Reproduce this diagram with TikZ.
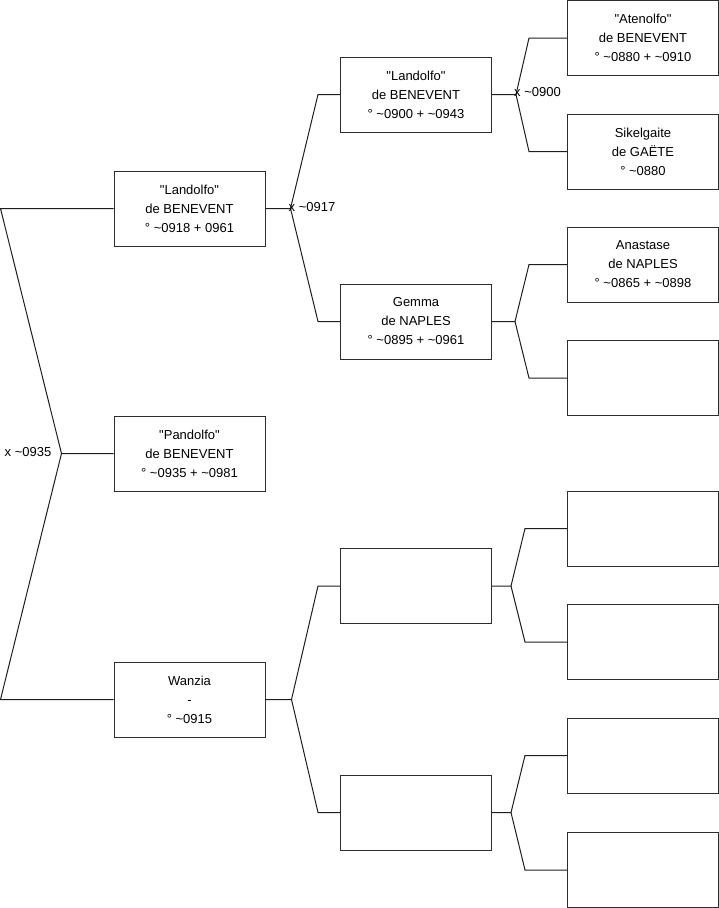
\documentclass[tikz,border=0pt]{standalone}
\usepackage{fontspec}
\setmainfont{Liberation Sans}[Ligatures=TeXOff]
\usepackage{xcolor}
\usepackage{tikz}
\usetikzlibrary{positioning, calc}
\definecolor{ftline}{RGB}{30,30,30}
\definecolor{ftbox}{RGB}{45,45,45}
\newcommand{\tl}{\textasciitilde}
\newcommand{\qt}[1]{\symbol{34}#1\symbol{34}}
\tikzset{
  person/.style   = {rectangle, draw=ftbox, line width=1pt, fill=white,
                     align=center, minimum width=151, minimum height=75,
                     inner sep=0pt, font=\fontsize{13}{19}\selectfont},
  link/.style     = {draw=ftline, line width=1pt, line join=miter},
  marriage/.style = {font=\fontsize{13}{16}\selectfont, inner sep=0pt},
}

\begin{document}
\begin{tikzpicture}[x=1pt, y=-1pt]
  \useasboundingbox (0,0) rectangle (719,908);
  % generation 1
  \node[person] (landolfoA) at (189.5,208.5) {\qt{Landolfo}\\de BENEVENT\\° \tl0918 + 0961};
  \node[person] (pandolfo)  at (189.5,453.5) {\qt{Pandolfo}\\de BENEVENT\\° \tl0935 + \tl0981};
  \node[person] (wanzia)    at (189.5,699.5) {Wanzia\\-\\° \tl0915};
  % generation 2
  \node[person] (landolfoB) at (416,94.5)  {\qt{Landolfo}\\de BENEVENT\\° \tl0900 + \tl0943};
  \node[person] (gemma)     at (416,321.5) {Gemma\\de NAPLES\\° \tl0895 + \tl0961};
  \node[person] (emptyA)    at (416,586)   {};
  \node[person] (emptyB)    at (416,812.5) {};
  % generation 3
  \node[person] (atenolfo)   at (643,38)    {\qt{Atenolfo}\\de BENEVENT\\° \tl0880 + \tl0910};
  \node[person] (sikelgaite) at (643,151.5) {Sikelgaite\\de GAËTE\\° \tl0880};
  \node[person] (anastase)   at (643,264.5) {Anastase\\de NAPLES\\° \tl0865 + \tl0898};
  \node[person] (emptyC)     at (643,378)   {};
  \node[person] (emptyD)     at (643,528.5) {};
  \node[person] (emptyE)     at (643,642)   {};
  \node[person] (emptyF)     at (643,755.5) {};
  \node[person] (emptyG)     at (643,870)   {};

  % forks
  \coordinate (k0) at ([xshift=-52]pandolfo.west);
  \coordinate (k1) at ([xshift=25]landolfoA.east);
  \coordinate (k2) at ([xshift=24]landolfoB.east);
  \coordinate (k3) at ([xshift=23]gemma.east);
  \coordinate (k4) at ([xshift=26]wanzia.east);
  \coordinate (k5) at ([xshift=19]emptyA.east);
  \coordinate (k6) at ([xshift=19]emptyB.east);

  \draw[link] (pandolfo.west) -- (k0) -- ([xshift=-113]landolfoA.west) -- (landolfoA.west);
  \draw[link] (k0) -- ([xshift=-113]wanzia.west) -- (wanzia.west);
  \draw[link] (landolfoA.east) -- (k1) -- ([xshift=-22]landolfoB.west) -- (landolfoB.west);
  \draw[link] (k1) -- ([xshift=-22]gemma.west) -- (gemma.west);
  \draw[link] (landolfoB.east) -- (k2) -- ([xshift=-38]atenolfo.west) -- (atenolfo.west);
  \draw[link] (k2) -- ([xshift=-38]sikelgaite.west) -- (sikelgaite.west);
  \draw[link] (gemma.east) -- (k3) -- ([xshift=-38]anastase.west) -- (anastase.west);
  \draw[link] (k3) -- ([xshift=-38]emptyC.west) -- (emptyC.west);
  \draw[link] (wanzia.east) -- (k4) -- ([xshift=-22]emptyA.west) -- (emptyA.west);
  \draw[link] (k4) -- ([xshift=-22]emptyB.west) -- (emptyB.west);
  \draw[link] (emptyA.east) -- (k5) -- ([xshift=-42]emptyD.west) -- (emptyD.west);
  \draw[link] (k5) -- ([xshift=-42]emptyE.west) -- (emptyE.west);
  \draw[link] (emptyB.east) -- (k6) -- ([xshift=-42]emptyF.west) -- (emptyF.west);
  \draw[link] (k6) -- ([xshift=-42]emptyG.west) -- (emptyG.west);

  \node[marriage, anchor=east] (m0935) at ([xshift=-10,yshift=1]k0) {x \tl0935};
  \node[marriage, anchor=west] (m0917) at ([xshift=-2,yshift=1]k1) {x \tl0917};
  \node[marriage, anchor=west] (m0900) at ([xshift=-2,yshift=2]k2) {x \tl0900};
\end{tikzpicture}
\end{document}
